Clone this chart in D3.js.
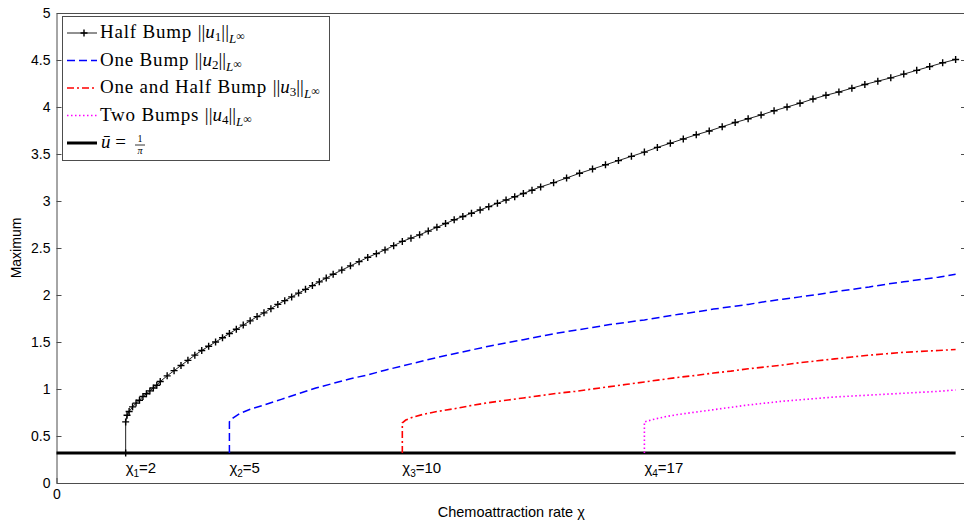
<!DOCTYPE html>
<html>
<head>
<meta charset="utf-8">
<script src="https://cdn.jsdelivr.net/npm/d3@7/dist/d3.min.js"></script>
<style>
  body { margin: 0; background: #fff; }
  svg { display: block; }
</style>
</head>
<body>
<svg id="chart" width="964" height="521"></svg>
<script>
// steady state 1/pi
var uBar = 0.3183;
var chiRange = [0, 26];

// half bump (markers at every sample)
var chi1 = [2, 2, 2.04, 2.1, 2.2, 2.3, 2.4, 2.5, 2.6, 2.7, 2.8, 2.9, 3.0,
  3.2, 3.4, 3.6, 3.8, 4.0, 4.2, 4.4, 4.6, 4.8, 5.0, 5.2, 5.4, 5.6, 5.8, 6.0, 6.2, 6.4, 6.6, 6.8, 7.0, 7.2, 7.4, 7.6, 7.8, 8.0,
  8.25, 8.5, 8.75, 9.0, 9.25, 9.5, 9.75, 10.0, 10.25, 10.5, 10.75, 11.0, 11.25, 11.5, 11.75, 12.0, 12.25, 12.5, 12.75, 13.0, 13.25, 13.5, 13.75, 14.0,
  14.375, 14.75, 15.125, 15.5, 15.875, 16.25, 16.625, 17.0, 17.375, 17.75, 18.125, 18.5, 18.875, 19.25, 19.625, 20.0,
  20.375, 20.75, 21.125, 21.5, 21.875, 22.25, 22.625, 23.0, 23.375, 23.75, 24.125, 24.5, 24.875, 25.25, 25.625, 26.0];
var u1 = [0.318, 0.65, 0.72, 0.76, 0.81, 0.85, 0.88, 0.92, 0.95, 0.98, 1.01, 1.04, 1.08,
  1.14, 1.195, 1.25, 1.305, 1.36, 1.41, 1.455, 1.50, 1.545, 1.59, 1.635, 1.68, 1.725, 1.77, 1.81, 1.855, 1.90, 1.94, 1.98, 2.02, 2.06, 2.10, 2.14, 2.18, 2.22,
  2.265, 2.31, 2.355, 2.40, 2.44, 2.48, 2.525, 2.57, 2.605, 2.64, 2.68, 2.72, 2.76, 2.80, 2.835, 2.87, 2.905, 2.94, 2.975, 3.01, 3.045, 3.08, 3.115, 3.15,
  3.195, 3.245, 3.295, 3.34, 3.385, 3.43, 3.475, 3.52, 3.57, 3.615, 3.66, 3.705, 3.745, 3.79, 3.835, 3.875,
  3.915, 3.96, 4.0, 4.04, 4.085, 4.125, 4.16, 4.20, 4.24, 4.275, 4.31, 4.35, 4.39, 4.43, 4.47, 4.505];

// one bump
var chi2 = [5, 5, 5.1, 5.3, 5.6, 6.0, 6.5, 7.0, 7.5, 8.0, 8.5, 9.0, 9.5, 10.0, 10.5, 11.0, 11.5, 12.0, 12.5, 13.0, 13.5, 14.0,
  14.5, 15.0, 15.5, 16.0, 16.5, 17.0, 17.5, 18.0, 18.5, 19.0, 19.5, 20.0, 20.5, 21.0, 21.5, 22.0, 22.5, 23.0, 23.5, 24.0, 24.5, 25.0, 25.5, 26.0];
var u2 = [0.318, 0.65, 0.69, 0.74, 0.785, 0.83, 0.89, 0.95, 1.01, 1.06, 1.11, 1.15, 1.20, 1.245, 1.29, 1.335, 1.375, 1.415, 1.455, 1.49, 1.525, 1.56,
  1.595, 1.625, 1.655, 1.685, 1.71, 1.735, 1.765, 1.795, 1.82, 1.85, 1.875, 1.90, 1.93, 1.955, 1.98, 2.005, 2.035, 2.06, 2.085, 2.115, 2.14, 2.165, 2.19, 2.22];

// one and half bump
var chi3 = [10, 10, 10.1, 10.3, 10.6, 11.0, 11.5, 12.0, 12.5, 13.0, 13.5, 14.0, 14.5, 15.0, 15.5, 16.0, 16.5, 17.0, 17.5,
  18.0, 18.5, 19.0, 19.5, 20.0, 20.5, 21.0, 21.5, 22.0, 22.5, 23.0, 23.5, 24.0, 24.5, 25.0, 25.5, 26.0];
var u3 = [0.318, 0.64, 0.67, 0.70, 0.73, 0.76, 0.79, 0.825, 0.855, 0.88, 0.905, 0.93, 0.955, 0.975, 1.0, 1.025, 1.05, 1.075, 1.10,
  1.125, 1.145, 1.17, 1.19, 1.215, 1.235, 1.255, 1.28, 1.30, 1.32, 1.34, 1.36, 1.375, 1.39, 1.40, 1.41, 1.42];

// two bumps
var chi4 = [17, 17, 17.1, 17.3, 17.6, 18.0, 18.5, 19.0, 19.5, 20.0, 20.5, 21.0, 21.5, 22.0, 22.5, 23.0, 23.5, 24.0, 24.5, 25.0, 25.5, 26.0];
var u4 = [0.318, 0.65, 0.66, 0.68, 0.705, 0.73, 0.755, 0.78, 0.805, 0.83, 0.85, 0.87, 0.885, 0.90, 0.915, 0.925, 0.935, 0.945, 0.955, 0.965, 0.975, 0.99];

var critChi = [2, 5, 10, 17];
var critSub = ['1', '2', '3', '4'];
var yTicks = [0, 0.5, 1, 1.5, 2, 2.5, 3, 3.5, 4, 4.5, 5];
var yTickLabels = ['0', '0.5', '1', '1.5', '2', '2.5', '3', '3.5', '4', '4.5', '5'];

var svg = d3.select('#chart');
var x = d3.scaleLinear().domain([0, 26.3]).range([56.5, 966]);
var y = d3.scaleLinear().domain([0, 5]).range([483, 13]);

var axisColor = '#4d4d4d';
var sans = 'Liberation Sans, Arial, sans-serif';

// plot box + ticks
var gL = svg.append('g').attr('transform', 'translate(' + x(0) + ',0)')
  .call(d3.axisLeft(y).tickValues(yTicks).tickSizeInner(-5).tickSizeOuter(0).tickPadding(6)
    .tickFormat(function (d, i) { return yTickLabels[i]; }));
var gR = svg.append('g').attr('transform', 'translate(' + x(26.3) + ',0)')
  .call(d3.axisRight(y).tickValues(yTicks).tickSizeInner(-5).tickSizeOuter(0).tickFormat(''));
var gB = svg.append('g').attr('transform', 'translate(0,' + y(0) + ')')
  .call(d3.axisBottom(x).tickValues([0]).tickSizeInner(-5).tickSizeOuter(0).tickPadding(6));
var gT = svg.append('g').attr('transform', 'translate(0,' + y(5) + ')')
  .call(d3.axisTop(x).tickValues([]).tickSizeOuter(0));

[gL, gR, gB, gT].forEach(function (g) {
  g.selectAll('path, line').attr('stroke', axisColor).attr('stroke-width', 1);
  g.selectAll('text').attr('fill', '#000').attr('font-family', sans).attr('font-size', 14);
});

// axis titles
svg.append('text').attr('x', (x(0) + x(26.3)) / 2).attr('y', 517).attr('text-anchor', 'middle')
  .attr('font-family', sans).attr('font-size', 14.5)
  .text('Chemoattraction rate χ');
svg.append('text').attr('transform', 'translate(21,' + (y(2.5)) + ') rotate(-90)').attr('text-anchor', 'middle')
  .attr('font-family', sans).attr('font-size', 14)
  .text('Maximum');

var line = d3.line().x(function (d) { return x(d[0]); }).y(function (d) { return y(d[1]); });
function pts(cs, us) { return cs.map(function (c, i) { return [c, us[i]]; }); }

// steady state line
svg.append('path').datum([[chiRange[0], uBar], [chiRange[1], uBar]]).attr('d', line)
  .attr('fill', 'none').attr('stroke', '#000').attr('stroke-width', 3);

// series
var series = [
  { d: pts(chi2, u2), color: '#0000ff', dash: '8,4', w: 1.5 },
  { d: pts(chi3, u3), color: '#ff0000', dash: '7,3,2,3', w: 1.6 },
  { d: pts(chi4, u4), color: '#ff00ff', dash: '1.5,2.5', w: 1.6 },
  { d: pts(chi1, u1), color: '#222', dash: null, w: 1 }
];
series.forEach(function (s) {
  svg.append('path').datum(s.d).attr('d', line).attr('fill', 'none')
    .attr('stroke', s.color).attr('stroke-width', s.w).attr('stroke-dasharray', s.dash);
});

function plus(g, cx, cy) {
  g.append('path').attr('d', 'M' + (cx - 3.5) + ',' + cy + 'H' + (cx + 3.5) + 'M' + cx + ',' + (cy - 3.5) + 'V' + (cy + 3.5))
    .attr('stroke', '#000').attr('stroke-width', 1.4);
}
var mk = svg.append('g');
pts(chi1, u1).forEach(function (p) { plus(mk, x(p[0]), y(p[1])); });

// critical value labels
var crit = svg.append('g').attr('font-family', sans).attr('font-size', 15);
critChi.forEach(function (c, i) {
  var t = crit.append('text').attr('x', x(c)).attr('y', 473);
  t.append('tspan').text('χ');
  t.append('tspan').attr('dy', 4).attr('font-size', 10).text(critSub[i]);
  t.append('tspan').attr('dy', -4).text('=' + c);
});

// legend
var lg = svg.append('g');
lg.append('rect').attr('x', 62.5).attr('y', 16.5).attr('width', 267).attr('height', 144)
  .attr('fill', '#fff').attr('stroke', axisColor).attr('stroke-width', 1);
var legendNames = ['Half Bump', 'One Bump', 'One and Half Bump', 'Two Bumps'];
var legendIdx = ['1', '2', '3', '4'];
var legendStyle = [series[3], series[0], series[1], series[2]];
var serif = 'Liberation Serif, Times New Roman, serif';
legendNames.forEach(function (n, i) {
  var cy = 33 + i * 27.5;
  var s = legendStyle[i];
  lg.append('line').attr('x1', 67).attr('x2', 97).attr('y1', cy).attr('y2', cy)
    .attr('stroke', s.color).attr('stroke-width', s.w).attr('stroke-dasharray', s.dash);
  if (i === 0) plus(lg, 84, cy);
  var t = lg.append('text').attr('x', 100).attr('y', cy + 5).attr('font-family', serif).attr('font-size', 19);
  t.append('tspan').attr('letter-spacing', 0.8).text(n + ' ');
  t.append('tspan').text('||');
  t.append('tspan').attr('font-style', 'italic').text('u');
  t.append('tspan').attr('dy', 3).attr('font-size', 13).text(legendIdx[i]);
  t.append('tspan').attr('dy', -3).text('||');
  t.append('tspan').attr('dy', 5).attr('font-size', 13).attr('font-style', 'italic').text('L');
  t.append('tspan').attr('dy', -3).attr('font-size', 12).text('∞');
});
var cyB = 33 + 4 * 27.5;
lg.append('line').attr('x1', 67).attr('x2', 97).attr('y1', cyB).attr('y2', cyB).attr('stroke', '#000').attr('stroke-width', 3);
lg.append('text').attr('x', 101).attr('y', cyB + 5).attr('font-family', serif).attr('font-size', 19)
  .html('<tspan font-style="italic">u\u0304</tspan> =');
lg.append('text').attr('x', 140).attr('y', cyB - 1).attr('text-anchor', 'middle').attr('font-family', serif).attr('font-size', 10).text('1');
lg.append('line').attr('x1', 135).attr('x2', 145).attr('y1', cyB + 2).attr('y2', cyB + 2).attr('stroke', '#000').attr('stroke-width', 0.8);
lg.append('text').attr('x', 140).attr('y', cyB + 11).attr('text-anchor', 'middle').attr('font-family', serif).attr('font-size', 10).attr('font-style', 'italic').text('π');
</script>
</body>
</html>
